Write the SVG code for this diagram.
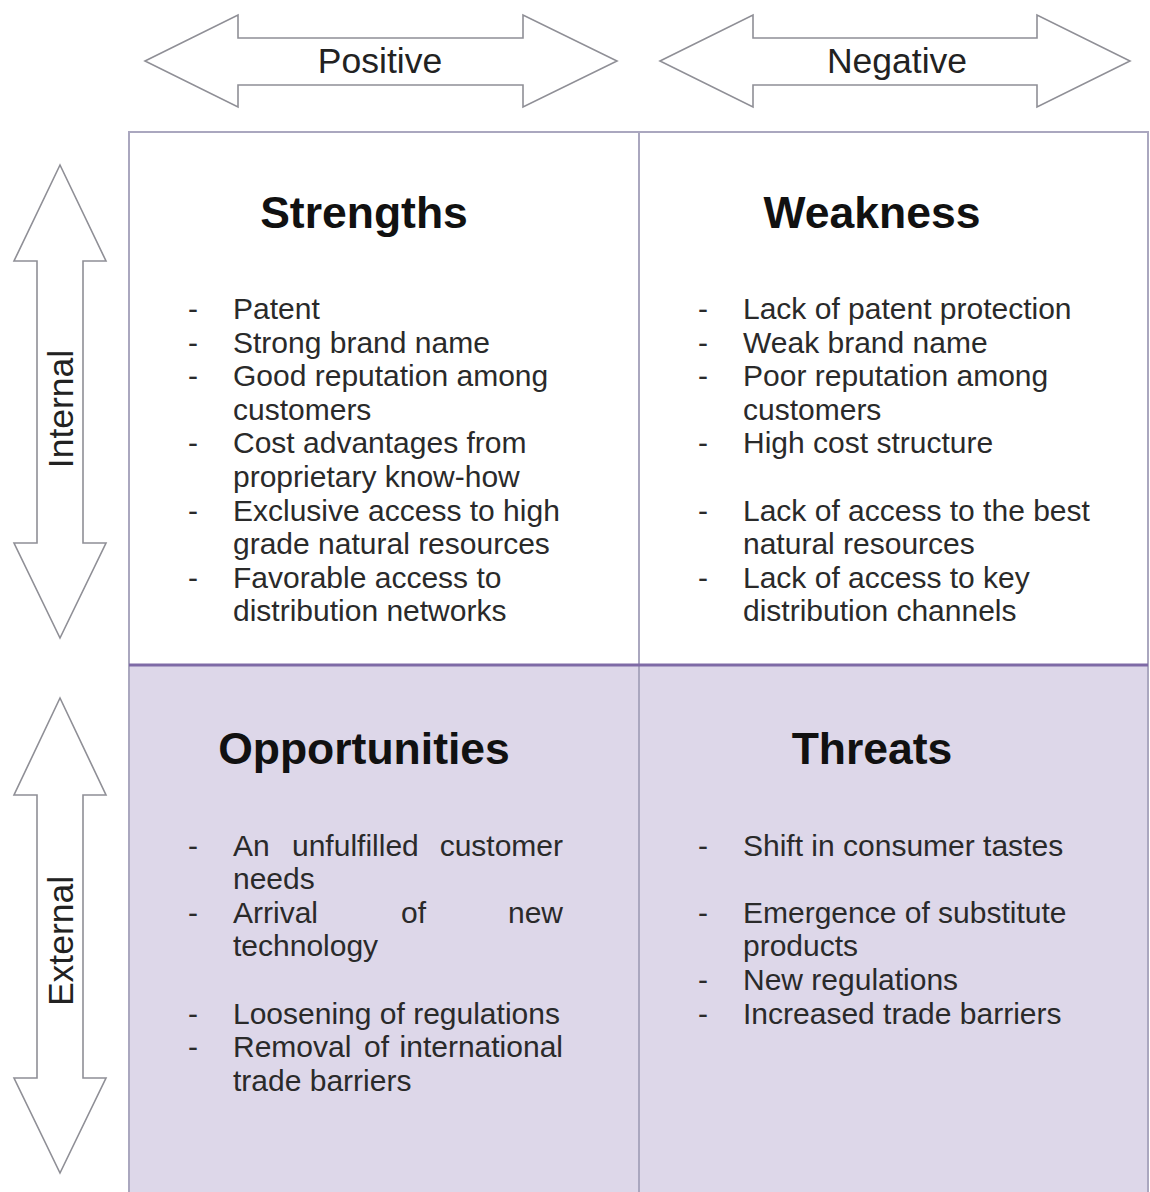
<svg xmlns="http://www.w3.org/2000/svg" width="1150" height="1192" viewBox="0 0 1150 1192">
<style>
.arrow{fill:#ffffff;stroke:#8f8f96;stroke-width:1.6;stroke-linejoin:miter}
.lbl{font-family:"Liberation Sans",Arial,sans-serif;font-size:35.5px;fill:#222;text-anchor:middle}
.hd{font-family:"Liberation Sans",Arial,sans-serif;font-size:44.5px;font-weight:bold;fill:#111;text-anchor:middle}
.tx{font-family:"Liberation Sans",Arial,sans-serif;font-size:30px;fill:#2a2a2a}
.grid{fill:none;stroke:#aaa7bf;stroke-width:2}
</style>
<rect width="1150" height="1192" fill="#ffffff"/>
<g id="arrow-positive">
<polygon class="arrow" points="145,61 238,15 238,38 523,38 523,15 617,61 523,107 523,85 238,85 238,107"/>
<text class="lbl" x="380" y="73">Positive</text>
</g>
<g id="arrow-negative">
<polygon class="arrow" points="660,61 753,15 753,38 1037,38 1037,15 1130,61 1037,107 1037,85 753,85 753,107"/>
<text class="lbl" x="897" y="73">Negative</text>
</g>
<g id="arrow-internal">
<polygon class="arrow" points="60,165 106,261 83,261 83,543 106,543 60,638 14,543 37,543 37,261 14,261"/>
<text class="lbl" transform="translate(73,409) rotate(-90)">Internal</text>
</g>
<g id="arrow-external">
<polygon class="arrow" points="60,698 106,795 83,795 83,1078 106,1078 60,1173 14,1078 37,1078 37,795 14,795"/>
<text class="lbl" transform="translate(73,941) rotate(-90)">External</text>
</g>
<g id="quadrants-bg">
<rect x="129" y="665" width="1019" height="540" fill="#ddd7e9"/>
<rect class="grid" x="129" y="132" width="1019" height="1080"/>
<line class="grid" x1="639" y1="132" x2="639" y2="1192"/>
<line x1="129" y1="665" x2="1148" y2="665" stroke="#7e6aa6" stroke-width="3"/>
</g>
<g id="strengths">
<text class="hd" x="364" y="228">Strengths</text>
<g class="tx">
<text x="188" y="319">-</text><text x="233" y="319">Patent</text>
<text x="188" y="352.6">-</text><text x="233" y="352.6">Strong brand name</text>
<text x="188" y="386.2">-</text><text x="233" y="386.2">Good reputation among</text>
<text x="233" y="419.8">customers</text>
<text x="188" y="453.4">-</text><text x="233" y="453.4">Cost advantages from</text>
<text x="233" y="487">proprietary know-how</text>
<text x="188" y="520.6">-</text><text x="233" y="520.6">Exclusive access to high</text>
<text x="233" y="554.2">grade natural resources</text>
<text x="188" y="587.8">-</text><text x="233" y="587.8">Favorable access to</text>
<text x="233" y="621.4">distribution networks</text>
</g>
</g>
<g id="weakness">
<text class="hd" x="872" y="228">Weakness</text>
<g class="tx">
<text x="698" y="319">-</text><text x="743" y="319">Lack of patent protection</text>
<text x="698" y="352.6">-</text><text x="743" y="352.6">Weak brand name</text>
<text x="698" y="386.2">-</text><text x="743" y="386.2">Poor reputation among</text>
<text x="743" y="419.8">customers</text>
<text x="698" y="453.4">-</text><text x="743" y="453.4">High cost structure</text>
<text x="698" y="520.6">-</text><text x="743" y="520.6">Lack of access to the best</text>
<text x="743" y="554.2">natural resources</text>
<text x="698" y="587.8">-</text><text x="743" y="587.8">Lack of access to key</text>
<text x="743" y="621.4">distribution channels</text>
</g>
</g>
<g id="opportunities">
<text class="hd" x="364" y="764">Opportunities</text>
<g class="tx">
<text x="188" y="855.5">-</text><text x="233" y="855.5">An</text><text x="292" y="855.5">unfulfilled</text><text x="563" y="855.5" text-anchor="end">customer</text>
<text x="233" y="889.1">needs</text>
<text x="188" y="922.7">-</text><text x="233" y="922.7">Arrival</text><text x="401" y="922.7">of</text><text x="563" y="922.7" text-anchor="end">new</text>
<text x="233" y="956.3">technology</text>
<text x="188" y="1023.5">-</text><text x="233" y="1023.5">Loosening of regulations</text>
<text x="188" y="1057.1">-</text><text x="233" y="1057.1">Removal</text><text x="364" y="1057.1">of</text><text x="563" y="1057.1" text-anchor="end">international</text>
<text x="233" y="1090.7">trade barriers</text>
</g>
</g>
<g id="threats">
<text class="hd" x="872" y="764">Threats</text>
<g class="tx">
<text x="698" y="855.5">-</text><text x="743" y="855.5">Shift in consumer tastes</text>
<text x="698" y="922.7">-</text><text x="743" y="922.7">Emergence of substitute</text>
<text x="743" y="956.3">products</text>
<text x="698" y="989.9">-</text><text x="743" y="989.9">New regulations</text>
<text x="698" y="1023.5">-</text><text x="743" y="1023.5">Increased trade barriers</text>
</g>
</g>
<g id="connectors"></g>
</svg>
